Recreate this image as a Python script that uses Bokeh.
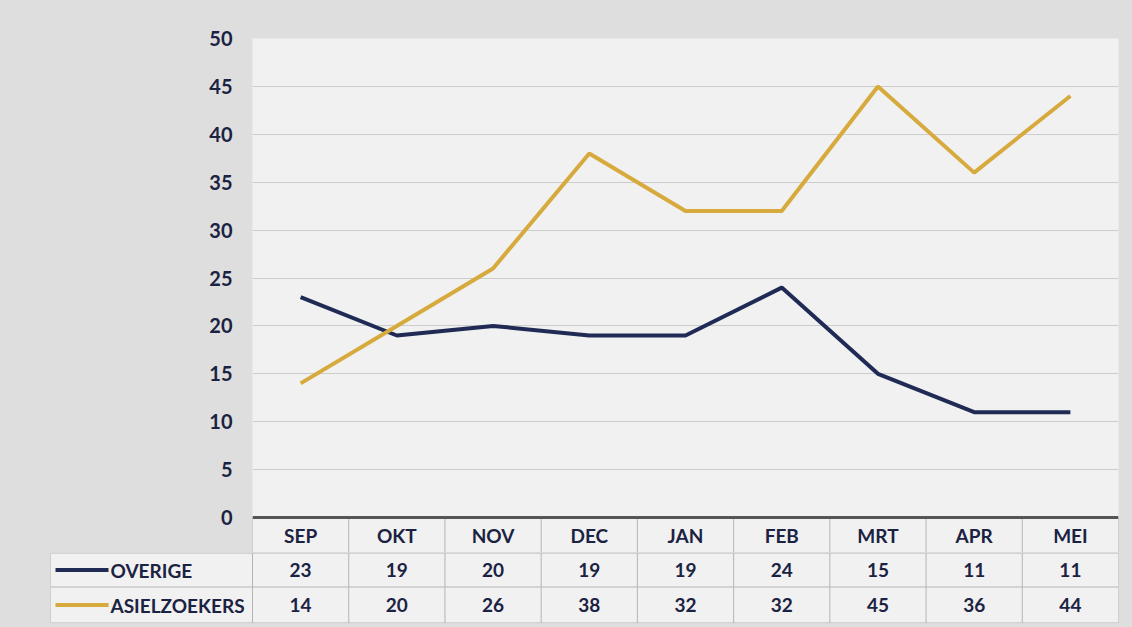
from bokeh.plotting import figure
from bokeh.layouts import column
from bokeh.models import Range1d, FixedTicker, ColumnDataSource
from bokeh.core.properties import value
from bokeh.embed import file_html
from bokeh.resources import INLINE

months = ["SEP", "OKT", "NOV", "DEC", "JAN", "FEB", "MRT", "APR", "MEI"]
overige = [23, 19, 20, 19, 19, 24, 15, 11, 11]
asielzoekers = [14, 20, 26, 38, 32, 32, 45, 36, 44]
y_ticks = [0, 5, 10, 15, 20, 25, 30, 35, 40, 45, 50]
series_names = ["OVERIGE", "ASIELZOEKERS"]

NAVY = "#1f2b55"
GOLD = "#d6aa3c"
TXT = "#1b2242"
GRIDC = "#b5b5b5"
FONT = "Lato"
BORDER = "#dedede"
PLOTBG = "#f1f1f1"

n = len(months)
xs = [i + 0.5 for i in range(n)]
HEADER_BOTTOM = -3.65
HEADER_CENTER = -1.83

# ---------------- chart + header row ----------------
p = figure(width=1132, height=552, output_backend="svg", toolbar_location=None,
           x_range=Range1d(0, n), y_range=Range1d(HEADER_BOTTOM, 50),
           min_border_left=252, min_border_right=14, min_border_top=38, min_border_bottom=0)
p.frame_align = False
p.outline_line_color = None
p.border_fill_color = BORDER
p.background_fill_color = PLOTBG
p.xaxis.visible = False
p.xgrid.visible = False
p.ygrid.ticker = FixedTicker(ticks=y_ticks[1:])
p.ygrid.grid_line_color = "#cccccc"
p.ygrid.grid_line_width = 1

ax = p.yaxis[0]
ax.ticker = FixedTicker(ticks=y_ticks)
ax.axis_line_color = None
ax.major_tick_line_color = None
ax.minor_tick_line_color = None
ax.major_tick_out = 0
ax.major_label_standoff = 20
ax.major_label_text_font = FONT
ax.major_label_text_font_style = "bold"
ax.major_label_text_font_size = "20px"
ax.major_label_text_color = TXT

p.line(xs, overige, line_color=NAVY, line_width=4)
p.line(xs, asielzoekers, line_color=GOLD, line_width=4)

p.segment(x0=list(range(n + 1)), y0=[0] * (n + 1), x1=list(range(n + 1)), y1=[HEADER_BOTTOM] * (n + 1),
          line_color=GRIDC, line_width=1)
p.segment(x0=[0], y0=[0], x1=[n], y1=[0], line_color="#555555", line_width=3)
p.text(x=xs, y=[HEADER_CENTER] * n, text=months, text_align="center", text_baseline="middle",
       text_font=value(FONT), text_font_style="bold", text_font_size="19px", text_color=TXT)

# ---------------- data table rows ----------------
unit_px = 866 / n
left_ext = -202 / unit_px
t = figure(width=1132, height=75, output_backend="svg", toolbar_location=None,
           x_range=Range1d(left_ext, n), y_range=Range1d(-0.5, 70.5),
           min_border_left=50, min_border_right=14, min_border_top=0, min_border_bottom=4)
t.frame_align = False
t.outline_line_color = None
t.border_fill_color = BORDER
t.background_fill_color = PLOTBG
t.axis.visible = False
t.grid.visible = False

row_mid = [53, 18]

t.segment(x0=[left_ext] + list(range(n + 1)), y0=[0] * (n + 2),
          x1=[left_ext] + list(range(n + 1)), y1=[70] * (n + 2), line_color=GRIDC, line_width=1)
t.segment(x0=[left_ext] * 3, y0=[70, 36, 0], x1=[n] * 3, y1=[70, 36, 0], line_color=GRIDC, line_width=1)

# legend swatches and names
sw_x0 = left_ext + 5 / unit_px
sw_x1 = left_ext + 58 / unit_px
tx = left_ext + 60 / unit_px
t.segment(x0=[sw_x0, sw_x0], y0=row_mid, x1=[sw_x1, sw_x1], y1=row_mid,
          line_color=[NAVY, GOLD], line_width=4)
t.text(x=[tx, tx], y=row_mid, text=series_names, text_align="left", text_baseline="middle",
       text_font=value(FONT), text_font_style="bold", text_font_size="19px", text_color=TXT)

src = ColumnDataSource(dict(
    x=xs * 2,
    y=[row_mid[0]] * n + [row_mid[1]] * n,
    t=[str(v) for v in overige] + [str(v) for v in asielzoekers],
))
t.text(x="x", y="y", text="t", source=src, text_align="center", text_baseline="middle",
       text_font=value(FONT), text_font_style="bold", text_font_size="19px", text_color=TXT)

layout = column(p, t, spacing=0, styles={"background-color": BORDER})
open("out.html", "w").write(file_html(layout, INLINE))
